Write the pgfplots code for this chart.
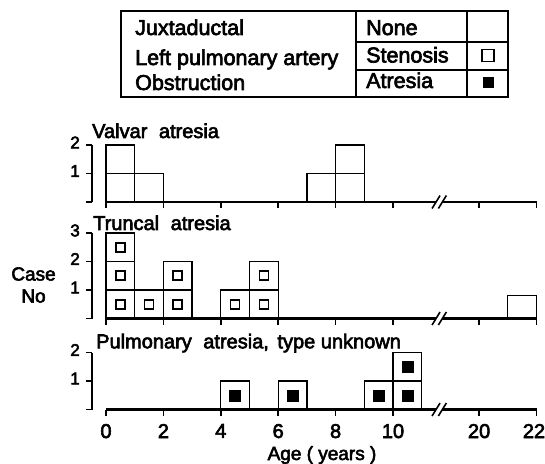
\documentclass[border=0pt]{standalone}
\usepackage{pgfplots}
\pgfplotsset{compat=1.18}
\usepackage{fontspec}
\setmainfont{Liberation Sans}[FakeBold=3]
\newcommand{\fs}[1]{\fontsize{#1}{#1}\selectfont}
\pgfplotsset{
  panel/.style={
    x=28.7pt, y=28.5pt, xmin=0, xmax=15, ymin=0,
    axis x line=bottom, axis y line=left,
    axis y line shift=14pt,
    x axis line style={-, line width=2.4pt},
    y axis line style={-, line width=2pt},
    xtick={0,2,4,6,8,10,13,15},
    tick align=outside,
    major tick length=6pt,
    major tick style={black, line width=1.6pt},
    xticklabels={},
    yticklabel style={font=\fs{17pt}, inner sep=1pt, xshift=-5pt, yshift=2.5pt},
    clip=false, anchor=south west,
  },
  box/.style={ybar, bar width=1, bar shift=0pt, draw=black, fill=none, line width=1.3pt},
  opensq/.style={only marks, mark=square, mark size=4.5pt, mark options={line width=1.6pt, draw=black, fill=none}},
  fillsq/.style={only marks, mark=square*, mark size=5.5pt, mark options={draw=black, fill=black}},
}
\begin{document}
\begin{tikzpicture}
\useasboundingbox (0,0) rectangle (545pt,463pt);

% Legend table
\draw[line width=1.5pt] (121pt,452pt) rectangle (508pt,366pt);
\draw[line width=1.5pt] (356pt,452pt) -- (356pt,366pt);
\draw[line width=1.5pt] (467pt,452pt) -- (467pt,366pt);
\draw[line width=1.3pt] (356pt,421pt) -- (508pt,421pt);
\draw[line width=1.3pt] (356pt,393pt) -- (508pt,393pt);
\begin{scope}[every node/.style={anchor=base west, inner sep=0pt, font=\fs{21.5pt}}]
\node at (135pt,428pt) {Juxtaductal};
\node at (135pt,398pt) {Left pulmonary artery};
\node at (135pt,373pt) {Obstruction};
\node at (366pt,428pt) {None};
\node at (366pt,400.5pt) {Stenosis};
\node at (366pt,375pt) {Atresia};
\end{scope}
\draw[line width=1.6pt] (482pt,401.5pt) rectangle (494pt,413.5pt);
\fill (482.5pt,375pt) rectangle (493.5pt,386pt);

% Panel 1: Valvar atresia
\begin{axis}[panel, at={(106pt,261pt)}, ymax=2, ytick={0,1,2}, yticklabels={,1,2}]
\addplot[box] coordinates {(0.5,1) (1.5,1) (7.5,1) (8.5,1)};
\addplot[box] coordinates {(0.5,2) (8.5,2)};
\coordinate (bA) at (axis cs:11.5,0);
\coordinate (bB) at (axis cs:11.72,0);
\end{axis}

% Panel 2: Truncal atresia
\begin{axis}[panel, at={(106pt,144.5pt)}, ymax=3, ytick={0,1,2,3}, yticklabels={,1,2,3}]
\addplot[box] coordinates {(0.5,1) (1.5,1) (2.5,1) (4.5,1) (5.5,1) (14.5,0.8)};
\addplot[box] coordinates {(0.5,2) (2.5,2) (5.5,2)};
\addplot[box] coordinates {(0.5,3)};
\addplot[opensq] coordinates {(0.5,0.5) (0.5,1.5) (0.5,2.5) (1.5,0.5) (2.5,0.5) (2.5,1.5) (4.5,0.5) (5.5,0.5) (5.5,1.5)};
\coordinate (cA) at (axis cs:11.5,0);
\coordinate (cB) at (axis cs:11.72,0);
\end{axis}

% Panel 3: Pulmonary atresia, type unknown
\begin{axis}[panel, at={(106pt,53.5pt)}, ymax=2, ytick={0,1,2}, yticklabels={,1,2},
  xticklabels={0,2,4,6,8,10,20,\hspace*{-5pt}22}, xticklabel style={font=\fs{20pt}, yshift=-5pt}]
\addplot[box] coordinates {(4.5,1) (6.5,1) (9.5,1) (10.5,1)};
\addplot[box] coordinates {(10.5,2)};
\addplot[fillsq] coordinates {(4.5,0.5) (6.5,0.5) (9.5,0.5) (10.5,0.5) (10.5,1.5)};
\coordinate (dA) at (axis cs:11.5,0);
\coordinate (dB) at (axis cs:11.72,0);
\end{axis}

% axis breaks
\foreach \a/\b in {bA/bB, cA/cB, dA/dB}{
  \fill[white] ([yshift=-3pt]\a) rectangle ([yshift=3pt]\b);
  \draw[line width=1.6pt] ([xshift=-4pt,yshift=-6.5pt]\a) -- ([xshift=4pt,yshift=6.5pt]\a);
  \draw[line width=1.6pt] ([xshift=-4pt,yshift=-6.5pt]\b) -- ([xshift=4pt,yshift=6.5pt]\b);
}

% titles
\node[anchor=base west, inner sep=0pt, font=\fs{20pt}] at (92pt,325pt) {Valvar\hspace{0.3em} atresia};
\node[anchor=base west, inner sep=0pt, font=\fs{20pt}] at (93pt,233pt) {Truncal\hspace{0.3em} atresia};
\node[anchor=base west, inner sep=0pt, font=\fs{20pt}] at (96pt,114.7pt) {Pulmonary\hspace{0.3em} atresia,\hspace{0.15em} type unknown};

% axis labels
\node[align=center, inner sep=0pt, font=\fontsize{19pt}{22pt}\selectfont] at (33.5pt,178pt) {Case\\No};
\node[anchor=base, inner sep=0pt, font=\fs{19pt}] at (322pt,3pt) {Age ( years )};
\end{tikzpicture}
\end{document}
